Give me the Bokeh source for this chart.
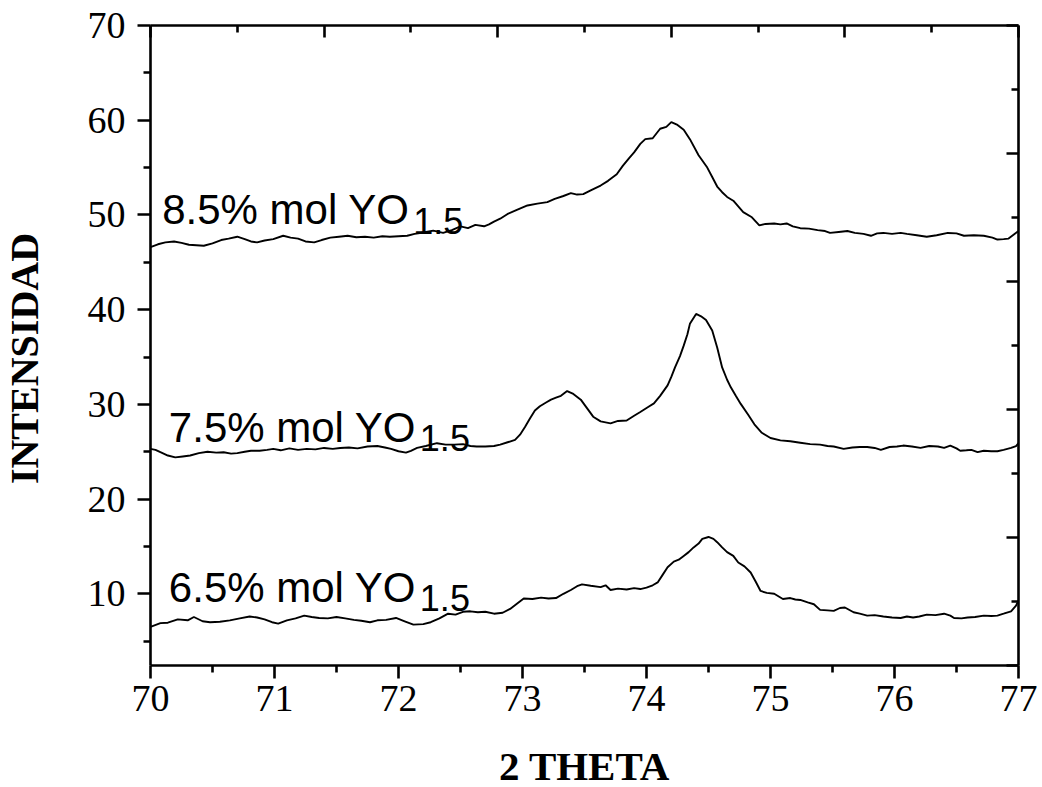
import math
from bokeh.plotting import figure
from bokeh.models import LinearAxis, Range1d, FixedTicker, ColumnDataSource, Label
from bokeh.core.properties import value
from bokeh.embed import file_html
from bokeh.resources import INLINE

# ---------------- data ----------------
x_65 = [70.00, 70.08, 70.14, 70.22, 70.30, 70.35, 70.42, 70.48, 70.56, 70.64, 70.72, 70.80, 70.86, 70.92, 70.98,
        71.03, 71.10, 71.17, 71.24, 71.30, 71.36, 71.43, 71.50, 71.57, 71.64, 71.70, 71.77, 71.83, 71.90, 71.98,
        72.05, 72.12, 72.20, 72.26, 72.33, 72.40, 72.46, 72.52, 72.58, 72.64, 72.70, 72.77, 72.84, 72.90, 72.96,
        73.01, 73.08, 73.15, 73.21, 73.27, 73.33, 73.39, 73.44, 73.48, 73.55, 73.63, 73.67, 73.71, 73.77, 73.84,
        73.90, 73.95, 74.00, 74.05, 74.09, 74.13, 74.17, 74.22, 74.26, 74.30, 74.34, 74.38, 74.42, 74.45, 74.50,
        74.54, 74.57, 74.61, 74.65, 74.70, 74.74, 74.79, 74.84, 74.88, 74.92, 74.97, 75.03, 75.10, 75.16, 75.20,
        75.24, 75.30, 75.35, 75.40, 75.46, 75.51, 75.56, 75.60, 75.67, 75.72, 75.78, 75.84, 75.91, 75.98, 76.05,
        76.10, 76.15, 76.20, 76.26, 76.33, 76.40, 76.45, 76.48, 76.54, 76.59, 76.65, 76.72, 76.78, 76.83, 76.88,
        76.94, 76.98, 77.00]
y_65 = [6.5, 6.9, 6.95, 7.3, 7.2, 7.55, 7.1, 7.0, 7.05, 7.2, 7.4, 7.6, 7.5, 7.3, 7.0,
        6.85, 7.2, 7.4, 7.7, 7.55, 7.45, 7.4, 7.55, 7.4, 7.25, 7.15, 7.0, 7.2, 7.25, 7.45,
        7.1, 6.75, 6.8, 7.0, 7.4, 7.9, 7.8, 8.1, 8.15, 8.05, 8.1, 7.9, 8.0, 8.4, 9.0,
        9.5, 9.45, 9.6, 9.5, 9.55, 10.0, 10.4, 10.8, 11.0, 10.85, 10.7, 10.9, 10.4, 10.55, 10.45,
        10.6, 10.5, 10.65, 10.9, 11.2, 12.0, 12.8, 13.4, 13.6, 14.0, 14.4, 14.9, 15.3, 15.8, 16.0,
        15.8, 15.45, 14.9, 14.4, 14.0, 13.3, 12.9, 12.25, 11.3, 10.3, 10.1, 10.0, 9.45, 9.55, 9.4,
        9.35, 9.1, 8.9, 8.3, 8.25, 8.2, 8.5, 8.55, 8.05, 7.9, 7.7, 7.75, 7.6, 7.5, 7.45,
        7.6, 7.5, 7.6, 7.8, 7.75, 7.9, 7.7, 7.45, 7.4, 7.5, 7.55, 7.7, 7.65, 7.7, 7.9,
        8.15, 8.75, 9.3]

x_75 = [70.00, 70.04, 70.08, 70.14, 70.20, 70.26, 70.32, 70.39, 70.46, 70.53, 70.59, 70.65, 70.70, 70.76, 70.81,
        70.88, 70.94, 70.99, 71.05, 71.12, 71.19, 71.26, 71.33, 71.40, 71.47, 71.53, 71.60, 71.67, 71.75, 71.83,
        71.89, 71.94, 72.00, 72.06, 72.10, 72.15, 72.22, 72.31, 72.38, 72.45, 72.52, 72.58, 72.63, 72.70, 72.77,
        72.82, 72.88, 72.94, 72.98, 73.02, 73.06, 73.10, 73.14, 73.19, 73.23, 73.27, 73.31, 73.36, 73.41, 73.47,
        73.52, 73.57, 73.63, 73.67, 73.71, 73.77, 73.84, 73.90, 73.95, 74.01, 74.06, 74.11, 74.17, 74.20, 74.23,
        74.27, 74.30, 74.33, 74.35, 74.40, 74.44, 74.48, 74.53, 74.57, 74.61, 74.65, 74.68, 74.72, 74.76, 74.82,
        74.87, 74.93, 75.00, 75.08, 75.16, 75.24, 75.32, 75.40, 75.46, 75.51, 75.59, 75.66, 75.72, 75.78, 75.84,
        75.89, 75.96, 76.02, 76.07, 76.14, 76.21, 76.28, 76.35, 76.40, 76.45, 76.50, 76.53, 76.58, 76.62, 76.67,
        76.72, 76.78, 76.83, 76.88, 76.94, 76.98, 77.00]
y_75 = [25.3, 25.2, 24.95, 24.6, 24.4, 24.5, 24.6, 24.85, 25.0, 24.9, 24.95, 24.8, 24.85, 25.0, 25.1,
        25.1, 25.2, 25.3, 25.15, 25.35, 25.2, 25.3, 25.25, 25.4, 25.3, 25.4, 25.45, 25.35, 25.55, 25.6,
        25.45, 25.3, 25.05, 24.9, 25.1, 25.4, 25.6, 25.9, 25.75, 25.75, 25.8, 25.6, 25.55, 25.55, 25.6,
        25.75, 26.0, 26.25, 26.8, 27.6, 28.5, 29.35, 29.8, 30.2, 30.5, 30.7, 30.9, 31.4, 31.1, 30.5,
        29.6, 28.7, 28.2, 28.1, 28.0, 28.25, 28.3, 28.8, 29.2, 29.7, 30.1, 30.9, 32.0, 32.9, 33.9,
        35.1, 36.2, 37.4, 38.5, 39.55, 39.3, 38.9, 37.8, 36.0, 33.9, 32.6, 31.8, 30.9, 30.05, 28.9,
        27.9, 27.0, 26.45, 26.2, 26.1, 25.95, 25.8, 25.75, 25.6, 25.55, 25.3, 25.45, 25.5, 25.5, 25.4,
        25.2, 25.5, 25.55, 25.65, 25.55, 25.4, 25.6, 25.55, 25.4, 25.65, 25.35, 25.1, 25.15, 25.2, 24.95,
        25.1, 25.05, 25.05, 25.2, 25.4, 25.6, 25.9]

x_85 = [70.00, 70.06, 70.12, 70.19, 70.25, 70.31, 70.37, 70.43, 70.50, 70.57, 70.63, 70.70, 70.76, 70.81, 70.86,
        70.92, 70.99, 71.07, 71.13, 71.19, 71.25, 71.32, 71.38, 71.45, 71.52, 71.59, 71.66, 71.73, 71.80, 71.87,
        71.93, 72.00, 72.07, 72.13, 72.20, 72.28, 72.36, 72.43, 72.50, 72.56, 72.62, 72.69, 72.73, 72.77, 72.82,
        72.88, 72.95, 73.04, 73.12, 73.20, 73.26, 73.33, 73.39, 73.44, 73.49, 73.55, 73.63, 73.69, 73.76, 73.81,
        73.86, 73.90, 73.95, 73.99, 74.05, 74.11, 74.16, 74.20, 74.25, 74.30, 74.35, 74.42, 74.49, 74.53, 74.57,
        74.61, 74.65, 74.70, 74.74, 74.78, 74.85, 74.91, 74.96, 75.03, 75.08, 75.13, 75.18, 75.24, 75.31, 75.38,
        75.44, 75.48, 75.55, 75.62, 75.68, 75.75, 75.81, 75.86, 75.91, 75.98, 76.05, 76.10, 76.18, 76.26, 76.34,
        76.43, 76.50, 76.56, 76.64, 76.72, 76.79, 76.83, 76.88, 76.92, 76.96, 77.00]
y_85 = [46.6, 46.9, 47.1, 47.2, 47.05, 46.85, 46.8, 46.75, 47.0, 47.35, 47.5, 47.7, 47.45, 47.2, 47.1,
        47.3, 47.45, 47.8, 47.6, 47.5, 47.2, 47.1, 47.35, 47.6, 47.7, 47.8, 47.65, 47.7, 47.6, 47.75,
        47.7, 47.75, 47.8, 48.0, 48.15, 48.35, 48.1, 48.4, 48.8, 48.6, 48.95, 48.8, 49.0, 49.3, 49.6,
        50.1, 50.5, 51.0, 51.2, 51.35, 51.7, 52.0, 52.3, 52.15, 52.2, 52.6, 53.1, 53.6, 54.3, 55.2,
        56.0, 56.6, 57.5, 58.0, 58.1, 59.1, 59.3, 59.8, 59.5, 59.0, 58.0, 56.3, 55.0, 54.0, 53.0,
        52.4, 51.9, 51.5, 50.9, 50.3, 49.75, 48.9, 49.05, 49.1, 49.0, 49.1, 48.8, 48.6, 48.55, 48.4,
        48.3, 48.1, 48.2, 48.3, 48.1, 48.0, 47.8, 48.05, 48.1, 48.0, 48.1, 48.0, 47.85, 47.7, 47.85,
        48.1, 48.05, 47.8, 47.85, 47.8, 47.6, 47.4, 47.45, 47.5, 47.9, 48.3]

label_text = ["8.5% mol YO", "7.5% mol YO", "6.5% mol YO"]
label_sub = ["1.5", "1.5", "1.5"]
label_x = [70.094, 70.148, 70.148]
label_y = [50.54, 27.58, 10.69]

x_title = "2 THETA"
y_title = "INTENSIDAD"

x_major = [70, 71, 72, 73, 74, 75, 76, 77]
x_minor = [70.5, 71.5, 72.5, 73.5, 74.5, 75.5, 76.5]
y_major = [10, 20, 30, 40, 50, 60, 70]
y_minor = [5, 15, 25, 35, 45, 55, 65]
# secondary (top / right) axes: 10 equal steps across the frame, no labels
aux_major = [0, 2, 4, 6, 8, 10]
aux_minor = [1, 3, 5, 7, 9]

# ---------------- figure ----------------
p = figure(width=1042, height=787, x_range=Range1d(70, 77), y_range=Range1d(2.43, 70),
           output_backend="svg", toolbar_location=None,
           min_border_left=150, min_border_right=24, min_border_top=25, min_border_bottom=122)
p.grid.visible = False
p.outline_line_color = None
p.background_fill_color = "white"
p.border_fill_color = "white"

p.extra_x_ranges = {"top": Range1d(0, 10)}
p.extra_y_ranges = {"right": Range1d(0, 10)}

serif = "Liberation Serif"

xa = p.xaxis[0]
xa.ticker = FixedTicker(ticks=x_major, minor_ticks=x_minor)
ya = p.yaxis[0]
ya.ticker = FixedTicker(ticks=y_major, minor_ticks=y_minor)

for ax in (xa, ya):
    ax.axis_line_width = 2.6
    ax.major_tick_line_width = 2.6
    ax.minor_tick_line_width = 2.6
    ax.major_tick_in = 0
    ax.minor_tick_in = 0
    ax.major_tick_out = 13
    ax.minor_tick_out = 7
    ax.major_label_text_font = serif
    ax.major_label_text_font_size = "38px"
    ax.major_label_text_color = "black"
    ax.axis_line_color = "black"
    ax.major_tick_line_color = "black"
    ax.minor_tick_line_color = "black"

xa.major_label_standoff = 7
ya.major_label_standoff = 12

top = LinearAxis(x_range_name="top", ticker=FixedTicker(ticks=aux_major, minor_ticks=aux_minor))
right = LinearAxis(y_range_name="right", ticker=FixedTicker(ticks=aux_major, minor_ticks=aux_minor))
for ax in (top, right):
    ax.axis_line_width = 2.6
    ax.major_tick_line_width = 2.6
    ax.minor_tick_line_width = 2.6
    ax.major_tick_in = 12
    ax.minor_tick_in = 7
    ax.major_tick_out = 0
    ax.minor_tick_out = 0
    ax.major_label_overrides = {t: "" for t in aux_major}
    ax.major_label_standoff = 0
    ax.axis_line_color = "black"
    ax.major_tick_line_color = "black"
    ax.minor_tick_line_color = "black"
p.add_layout(top, "above")
p.add_layout(right, "right")

# axis titles placed in the side panels
p.add_layout(Label(x=434, y=-6, x_units="screen", y_units="screen", text=x_title,
                   text_font=serif, text_font_style="bold", text_font_size="41px",
                   text_align="center", text_baseline="alphabetic", text_color="black"), "below")
p.add_layout(Label(x=-15, y=307, x_units="screen", y_units="screen", text=y_title,
                   angle=math.pi / 2, text_font=serif, text_font_style="bold", text_font_size="40px",
                   text_align="center", text_baseline="alphabetic", text_color="black"), "left")

for xs, ys in ((x_65, y_65), (x_75, y_75), (x_85, y_85)):
    p.line(xs, ys, line_color="black", line_width=1.9)

src = ColumnDataSource(dict(x=label_x, y=label_y, t=label_text, s=label_sub))
p.text(x="x", y="y", text="t", source=src, text_font=value("Liberation Sans"),
       text_font_size="42px", text_baseline="alphabetic", text_align="left", text_color="black")
p.text(x="x", y="y", text="s", source=src, text_font=value("Liberation Sans"),
       text_font_size="36px", text_baseline="alphabetic", text_align="left", text_color="black",
       x_offset=251, y_offset=11)

open("out.html", "w").write(file_html(p, INLINE))
